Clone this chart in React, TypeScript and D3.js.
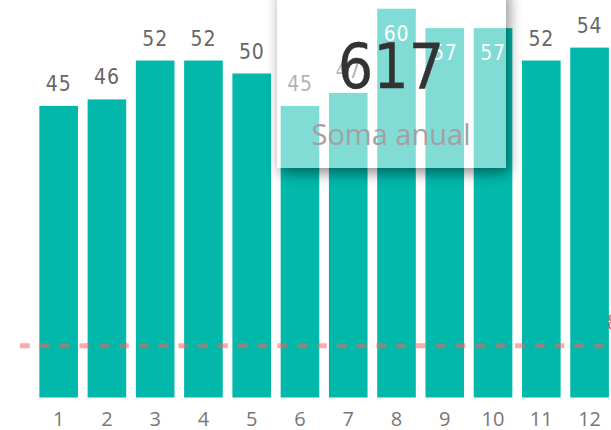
import React from "react";
import * as d3 from "d3";

const months: string[] = ["1", "2", "3", "4", "5", "6", "7", "8", "9", "10", "11", "12"];
const values: number[] = [45, 46, 52, 52, 50, 45, 47, 60, 57, 57, 52, 54];
const targetLine: number = 8;
const totalValue: number = 617;
const totalLabel: string = "Soma anual";

const W = 611;
const H = 430;

export default function App() {
  const x = d3
    .scaleBand<string>()
    .domain(months)
    .range([34.5, 613.7])
    .paddingInner(0.2)
    .paddingOuter(0.1);
  const y = d3.scaleLinear().domain([0, 60]).range([397.5, 8.7]);

  const card = { x: 277, y: -12, w: 229, h: 180 };
  const din = "'DejaVu Sans Condensed', 'DejaVu Sans', sans-serif";
  const segoe = "'Open Sans', 'Noto Sans', sans-serif";

  return (
    <div style={{ position: "fixed", left: 0, top: 0, width: W, height: H, background: "#fff" }}>
      <svg width={W} height={H} style={{ display: "block" }}>
        <defs>
          <filter id="shadowBlur" x="-50%" y="-50%" width="200%" height="200%">
            <feGaussianBlur stdDeviation="7" />
          </filter>
          <mask id="outsideCard">
            <rect x={0} y={0} width={W} height={H} fill="white" />
            <rect x={card.x} y={card.y} width={card.w} height={card.h} fill="black" />
          </mask>
        </defs>

        {/* bars */}
        {values.map((v, i) => (
          <rect
            key={"b" + i}
            x={x(months[i])}
            y={y(v)}
            width={x.bandwidth()}
            height={y(0) - y(v)}
            fill="#01B8AA"
          />
        ))}

        {/* constant line */}
        <line
          x1={20}
          x2={606}
          y1={y(targetLine)}
          y2={y(targetLine)}
          stroke="rgb(255,94,94)"
          strokeOpacity={0.53}
          strokeWidth={5}
          strokeDasharray="9.8 10"
        />
        <text x={607} y={330} fill="#FD625E" fontSize={21} fontFamily={din}>
          {targetLine}
        </text>

        {/* value labels */}
        {values.map((v, i) => {
          const inside = v >= 57;
          const cx = (x(months[i]) as number) + x.bandwidth() / 2;
          return (
            <text
              key={"l" + i}
              x={cx}
              y={inside ? y(v) + 32 : y(v) - 15}
              textAnchor="middle"
              fill={inside ? "#ffffff" : "#666666"}
              fontSize={21}
              letterSpacing={0.8}
              fontFamily={din}
            >
              {v}
            </text>
          );
        })}

        {/* category axis */}
        {months.map((m) => (
          <text
            key={"a" + m}
            x={(x(m) as number) + x.bandwidth() / 2}
            y={426}
            textAnchor="middle"
            fill="#777777"
            fontSize={20}
            fontFamily={segoe}
          >
            {m}
          </text>
        ))}

        {/* card shadow */}
        <g mask="url(#outsideCard)">
          <rect
            x={card.x + 3}
            y={card.y + 5}
            width={card.w}
            height={card.h}
            fill="#000"
            opacity={0.45}
            filter="url(#shadowBlur)"
          />
        </g>
        {/* card */}
        <rect x={card.x} y={card.y} width={card.w} height={card.h} fill="#ffffff" fillOpacity={0.5} />
        <text
          x={391}
          y={88}
          textAnchor="middle"
          fill="#333333"
          fontSize={62}
          fontFamily={din}
          stroke="#333333"
          strokeWidth={0.3}
        >
          {totalValue}
        </text>
        <text
          x={391}
          y={145}
          textAnchor="middle"
          fill="#a89ea2"
          fontSize={29}
          fontFamily={segoe}
        >
          {totalLabel}
        </text>
      </svg>
    </div>
  );
}
